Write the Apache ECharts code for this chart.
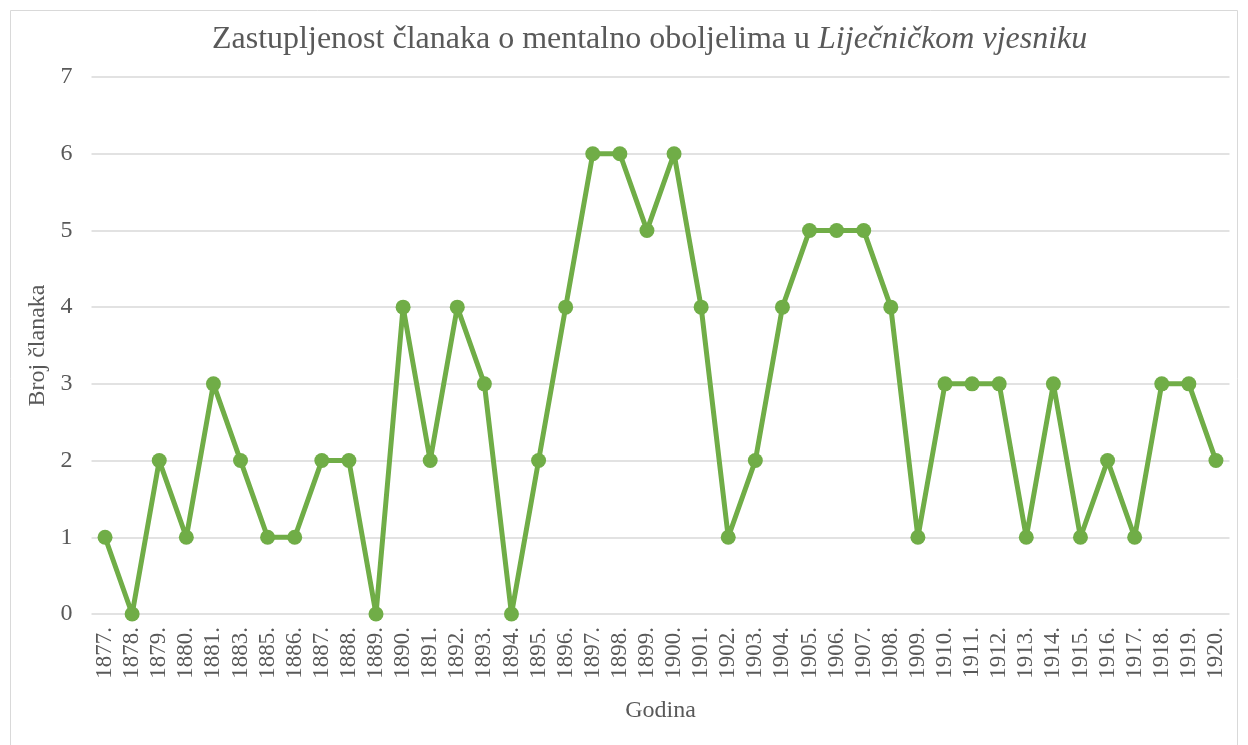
<!DOCTYPE html>
<html>
<head>
<meta charset="utf-8">
<script src="https://cdn.jsdelivr.net/npm/echarts@6/dist/echarts.min.js"></script>
<style>html,body{margin:0;padding:0;background:#fff}#c{width:1248px;height:745px}</style>
</head>
<body>
<div id="c"></div>
<script>
const years = ['1877.','1878.','1879.','1880.','1881.','1883.','1885.','1886.','1887.','1888.','1889.','1890.','1891.','1892.','1893.','1894.','1895.','1896.','1897.','1898.','1899.','1900.','1901.','1902.','1903.','1904.','1905.','1906.','1907.','1908.','1909.','1910.','1911.','1912.','1913.','1914.','1915.','1916.','1917.','1918.','1919.','1920.'];
const counts = [1,0,2,1,3,2,1,1,2,2,0,4,2,4,3,0,2,4,6,6,5,6,4,1,2,4,5,5,5,4,1,3,3,3,1,3,1,2,1,3,3,2];
const yTicks = [0,1,2,3,4,5,6,7];

const font = '"Liberation Serif", "Times New Roman", serif';
const chart = echarts.init(document.getElementById('c'), null, {renderer:'canvas'});
chart.setOption({
  animation:false,
  backgroundColor:'#fff',
  graphic:[{type:'rect',shape:{x:10.5,y:10.5,width:1227,height:740},style:{fill:'none',stroke:'#d9d9d9',lineWidth:1},silent:true}],
  title:{
    left:207, top:19,
    text:'{n|Zastupljenost članaka o mentalno oboljelima u }{i|Liječničkom vjesniku}',
    textStyle:{fontWeight:'normal',rich:{
      n:{fontFamily:font,fontSize:32,fontWeight:'normal',color:'#595959'},
      i:{fontFamily:font,fontSize:32,fontWeight:'normal',color:'#595959',fontStyle:'italic'}
    }}
  },
  grid:{left:91.5,right:18.5,top:77,bottom:131,containLabel:false},
  xAxis:{
    type:'category', data:years, boundaryGap:true,
    name:'Godina', nameLocation:'middle', nameGap:85,
    nameTextStyle:{fontFamily:font,fontSize:24,color:'#595959'},
    axisLine:{show:false}, axisTick:{show:false},
    axisLabel:{rotate:90,interval:0,margin:13,fontFamily:font,fontSize:23,color:'#595959'}
  },
  yAxis:{
    type:'value', min:0, max:7, interval:1,
    name:'Broj članaka', nameLocation:'middle', nameGap:42, nameRotate:90,
    nameTextStyle:{fontFamily:font,fontSize:24,color:'#595959'},
    axisLine:{show:false}, axisTick:{show:false},
    axisLabel:{margin:19,fontFamily:font,fontSize:24,color:'#595959',formatter:v=>yTicks.includes(v)?String(v):''},
    splitLine:{lineStyle:{color:'#d9d9d9',width:1.5}}
  },
  series:[{
    type:'line', data:counts,
    symbol:'circle', symbolSize:15,
    lineStyle:{color:'#70AD47',width:5},
    itemStyle:{color:'#70AD47'}
  }]
});
</script>
</body>
</html>
